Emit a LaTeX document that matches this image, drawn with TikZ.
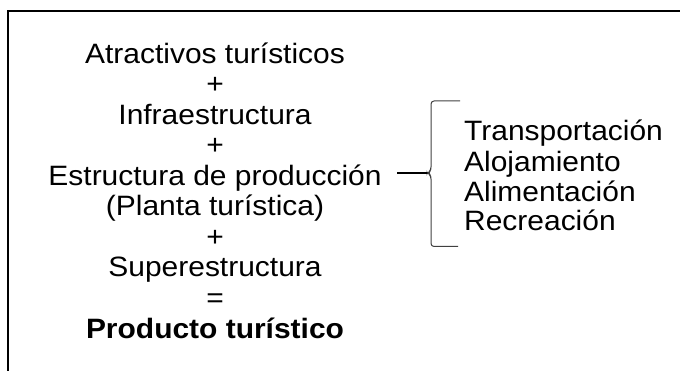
\documentclass[tikz,border=0pt]{standalone}
\usepackage{fontspec}
\setmainfont{Liberation Sans}[FakeStretch=1.07]
\usepackage{tikz}

\begin{document}
\begin{tikzpicture}[x=1pt,y=-1pt,
  txt/.style={inner sep=0pt,anchor=base,font=\fontsize{28}{30}\selectfont},
  lst/.style={txt,anchor=base west},
  brace/.style={line width=1pt,draw=black!75,rounded corners=3pt}]

 \useasboundingbox (0,0) rectangle (680,371);
 \draw[line width=2pt] (7.5,371)--(7.5,11.5)--(680,11.5);

 \node at (215,63.5) [txt] (atr) {Atractivos turísticos};
 \node at (215,94) [txt] (plus1) {+};
 \node at (215,124.5) [txt] (infra) {Infraestructura};
 \node at (215,155) [txt] (plus2) {+};
 \node at (215,185.5) [txt] (estr) {Estructura de producción};
 \node at (215,216) [txt] (planta) {(Planta turística)};
 \node at (215,246.5) [txt] (plus3) {+};
 \node at (215,277) [txt] (super) {Superestructura};
 \node at (215,307.5) [txt] (igual) {=};
 \node at (215,338) [txt,font=\fontsize{28}{30}\selectfont\bfseries] (prod) {Producto turístico};

 \node at (464,141) [lst] (transp) {Transportación};
 \node at (464,171.5) [lst] (aloj) {Alojamiento};
 \node at (464,201.5) [lst] (alim) {Alimentación};
 \node at (464,231) [lst] (recr) {Recreación};

 \coordinate (stem) at (397,173);
 \coordinate (tip) at (428,173);
 \coordinate (btop) at (460,101);
 \coordinate (bbot) at (458,246.5);

 \draw[line width=1.2pt] (stem)--(tip);
 \draw[brace] (btop)--(431,101)--(431,170)--(tip)--(431,176)--(431,246.5)--(bbot);
\end{tikzpicture}
\end{document}
